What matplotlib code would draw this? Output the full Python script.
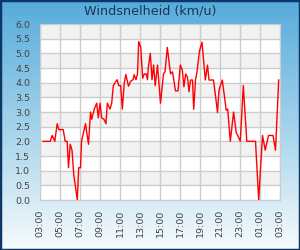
import numpy as np
import matplotlib.pyplot as plt
from matplotlib.patches import Rectangle
from matplotlib.colors import LinearSegmentedColormap

# hours after 03:00 and wind speed (km/u)
hours = [0.30, 1.03, 1.22, 1.48, 1.72, 1.88, 2.32, 2.52, 2.72, 2.85,
         3.02, 3.20, 3.38, 3.73, 3.87, 4.05, 4.15, 4.55, 4.85, 5.05,
         5.17, 5.43, 5.67, 5.83, 6.00, 6.17, 6.40, 6.60, 6.73, 7.00,
         7.17, 7.33, 7.60, 7.73, 7.87, 8.07, 8.23, 8.43, 8.58, 8.85,
         9.07, 9.30, 9.42, 9.60, 9.75, 9.87, 10.07, 10.27, 10.43, 10.62,
         10.75, 10.82, 11.03, 11.20, 11.36, 11.52, 11.75, 12.05, 12.35, 12.50,
         12.73, 13.05, 13.25, 13.55, 13.80, 14.03, 14.23, 14.39, 14.57, 14.75,
         14.90, 15.05, 15.25, 15.37, 15.55, 15.70, 15.95, 16.20, 16.53, 16.75,
         16.90, 17.35, 17.65, 17.75, 17.90, 18.23, 18.48, 18.62, 18.77, 19.03,
         19.36, 19.62, 19.77, 20.03, 20.33, 20.68, 21.55, 21.87, 22.25, 22.52,
         22.85, 23.30, 23.55, 23.87]
speed = [2.0, 2.0, 2.2, 2.0, 2.6, 2.4, 2.4, 2.0, 2.0, 1.1,
         1.9, 1.7, 0.85, 0.0, 1.1, 1.1, 2.0, 2.6, 1.9, 3.0,
         2.75, 3.1, 3.3, 2.8, 3.3, 2.8, 2.75, 2.6, 3.3, 3.1,
         3.3, 3.9, 4.05, 4.1, 3.9, 3.9, 3.1, 4.0, 4.28, 3.88,
         4.05, 4.1, 4.27, 4.1, 4.3, 5.4, 5.23, 4.15, 4.3, 4.3,
         4.1, 4.5, 5.0, 4.1, 4.6, 3.9, 4.6, 3.3, 4.3, 4.37,
         5.2, 4.3, 4.37, 3.72, 3.72, 4.6, 4.43, 3.86, 4.3, 4.18,
         3.69, 4.09, 4.09, 3.09, 4.09, 4.37, 5.08, 5.38, 4.09, 4.6,
         4.09, 4.09, 3.28, 2.98, 3.75, 4.09, 3.44, 3.06, 3.1, 2.0,
         3.0, 2.3, 2.2, 2.0, 3.9, 2.0, 2.0, 0.0, 2.2, 1.7,
         2.2, 2.2, 1.7, 4.09]

tick_hours = list(range(0, 25, 2))
tick_labels = ['03:00', '05:00', '07:00', '09:00', '11:00', '13:00', '15:00',
               '17:00', '19:00', '21:00', '23:00', '01:00', '03:00']
y_ticks = np.arange(0, 6.01, 0.5)

fig = plt.figure(figsize=(3, 2.5), dpi=100)

# gradient background
bg = fig.add_axes([0, 0, 1, 1], zorder=0)
cmap = LinearSegmentedColormap.from_list('bg', ['#56abdb', '#a3d2eb', '#f7fbfd'])
grad = np.linspace(0, 1, 256).reshape(-1, 1)
bg.imshow(grad, aspect='auto', cmap=cmap, extent=[0, 1, 0, 1], origin='upper')
bg.set_xlim(0, 1)
bg.set_ylim(0, 1)
bg.axis('off')
bg.add_patch(Rectangle((0, 0), 1, 1, transform=bg.transAxes, fill=False,
                       edgecolor='#0c3766', linewidth=2.5))

fig.text(0.5, 0.955, 'Windsnelheid (km/u)', ha='center', va='center',
         fontsize=9.2, color='#1b3553')

ax = fig.add_axes([40 / 300, 0.2, 0.8, 176 / 250], zorder=1)
ax.set_facecolor('white')
for lo in np.arange(0.5, 6, 1.0):
    ax.axhspan(lo, lo + 0.5, color='#f2f2f2', zorder=0, lw=0)

ax.plot(hours, speed, color='#ff0000', lw=1.0, zorder=3)

ax.set_xlim(0, 24)
ax.set_ylim(0, 6)
ax.set_xticks(tick_hours)
ax.set_xticklabels(tick_labels, rotation=90)
ax.set_yticks(y_ticks)
ax.set_yticklabels(['%.1f' % v for v in y_ticks])
ax.grid(True, color='#cccccc', lw=1)
ax.set_axisbelow(True)
ax.tick_params(length=0, labelsize=6.8, colors='#444444')
ax.tick_params(axis='y', pad=7)
ax.tick_params(axis='x', pad=7)
for s in ax.spines.values():
    s.set_color('#cccccc')

fig.savefig('out.png', dpi=100)
